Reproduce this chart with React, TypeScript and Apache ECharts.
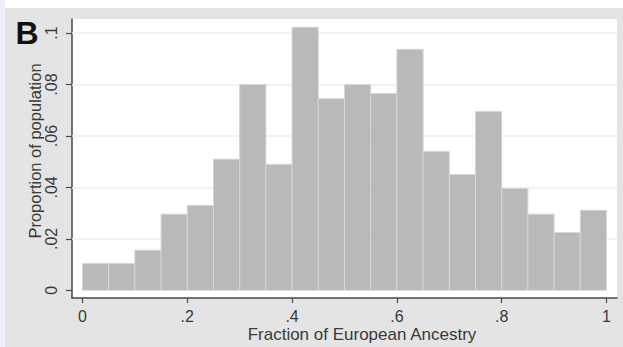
import React, { useEffect, useRef } from "react";
import * as echarts from "echarts";

// Histogram bins (fraction of European ancestry), lower and upper edges
const binStarts = [0, 0.05, 0.1, 0.15, 0.2, 0.25, 0.3, 0.35, 0.4, 0.45, 0.5, 0.55, 0.6, 0.65, 0.7, 0.75, 0.8, 0.85, 0.9, 0.95];
const binEnds = [0.05, 0.1, 0.15, 0.2, 0.25, 0.3, 0.35, 0.4, 0.45, 0.5, 0.55, 0.6, 0.65, 0.7, 0.75, 0.8, 0.85, 0.9, 0.95, 1];
// Proportion of population in each bin
const proportions = [0.0104, 0.0104, 0.0156, 0.0296, 0.033, 0.051, 0.080, 0.049, 0.1023, 0.0745, 0.080, 0.0765, 0.0937, 0.054, 0.045, 0.0695, 0.0396, 0.0296, 0.0225, 0.0311];

const xTicks = [0, 0.2, 0.4, 0.6, 0.8, 1];
const yTicks = [0, 0.02, 0.04, 0.06, 0.08, 0.1];
const yGridLines = [0.02, 0.04, 0.06, 0.08, 0.1];

const fmt = (v: number) => {
  const r = Math.round(v * 100) / 100;
  if (r === 0) return "0";
  if (r === 1) return "1";
  return String(r).replace(/^0/, "");
};

export default function App() {
  const ref = useRef<HTMLDivElement>(null);
  useEffect(() => {
    if (!ref.current) return;
    const chart = echarts.init(ref.current, null, { renderer: "svg" });
    const data = binStarts.map((s, i) => [s, binEnds[i], proportions[i]]);
    const font = "Liberation Sans, Arial, Helvetica, sans-serif";
    const axisColor = "#4a4a4a";
    chart.setOption({
      animation: false,
      backgroundColor: "#e4e4e4",
      textStyle: { fontFamily: font },
      grid: {
        left: 72,
        right: 6,
        top: 19,
        bottom: 49,
        show: true,
        backgroundColor: "#ffffff",
        borderWidth: 0,
      },
      xAxis: {
        type: "value",
        min: -0.02,
        max: 1.02,
        axisLine: { show: true, onZero: false, lineStyle: { color: axisColor, width: 1.5 } },
        axisTick: { show: true, length: 5, customValues: xTicks, lineStyle: { color: axisColor, width: 1.2 } },
        axisLabel: {
          customValues: xTicks,
          formatter: (v: number) => fmt(v),
          color: "#3a3a3a",
          fontSize: 16,
          fontFamily: font,
          margin: 10,
        },
        splitLine: { show: false },
      },
      yAxis: {
        type: "value",
        min: -0.003,
        max: 0.1055,
        axisLine: { show: true, onZero: false, lineStyle: { color: axisColor, width: 1.5 } },
        axisTick: { show: true, length: 6, customValues: yTicks, lineStyle: { color: axisColor, width: 1.2 } },
        axisLabel: {
          customValues: yTicks,
          formatter: (v: number) => fmt(v),
          rotate: 90,
          color: "#3a3a3a",
          fontSize: 16,
          fontFamily: font,
          margin: 13,
        },
        splitLine: { show: false },
      },
      series: [
        {
          type: "line",
          data: [],
          silent: true,
          z: 1,
          markLine: {
            silent: true,
            symbol: "none",
            z: 1,
            label: { show: false },
            lineStyle: { color: "#eeeeee", width: 1.5, type: "solid" },
            data: yGridLines.map((v) => ({ yAxis: v })),
          },
        },
        {
          type: "custom",
          z: 3,
          data,
          renderItem: (params: any, api: any) => {
            const x0 = api.value(0);
            const x1 = api.value(1);
            const h = api.value(2);
            const p0 = api.coord([x0, 0]);
            const p1 = api.coord([x1, h]);
            return {
              type: "rect",
              shape: { x: p0[0], y: p1[1], width: p1[0] - p0[0], height: p0[1] - p1[1] },
              style: { fill: "#b9b9b9", stroke: "#d6d6d6", lineWidth: 1 },
            };
          },
          encode: { x: [0, 1], y: 2 },
        },
      ],
      graphic: [
        { type: "rect", left: 0, top: 0, shape: { width: 623, height: 8 }, style: { fill: "#ffffff" }, silent: true },
        { type: "rect", left: 0, top: 0, shape: { width: 5, height: 347 }, style: { fill: "#eeeefc" }, silent: true },
        {
          type: "text",
          x: 27,
          y: 33,
          style: {
            text: "B",
            fontSize: 32,
            fontWeight: "bold",
            fontFamily: font,
            fill: "#111111",
            textAlign: "center",
            textVerticalAlign: "middle",
          },
        },
        {
          type: "text",
          x: 35,
          y: 151,
          rotation: Math.PI / 2,
          style: {
            text: "Proportion of population",
            fontSize: 16.5,
            fontFamily: font,
            fill: "#3a3a3a",
            textAlign: "center",
            textVerticalAlign: "middle",
          },
        },
        {
          type: "text",
          x: 362,
          y: 334,
          style: {
            text: "Fraction of European Ancestry",
            fontSize: 17,
            fontFamily: font,
            fill: "#3a3a3a",
            textAlign: "center",
            textVerticalAlign: "middle",
          },
        },
      ],
    });
    return () => chart.dispose();
  }, []);
  return (
    <div
      ref={ref}
      style={{ position: "absolute", left: 0, top: 0, width: 623, height: 347 }}
    />
  );
}
